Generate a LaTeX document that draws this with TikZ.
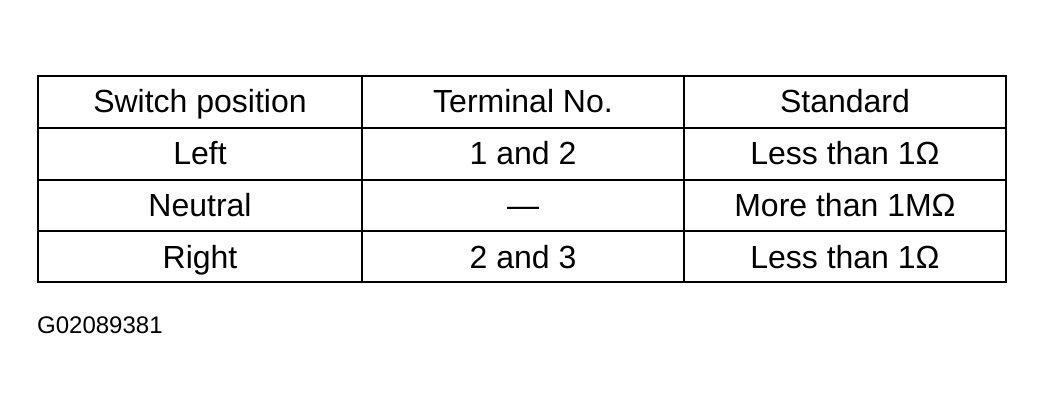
\documentclass[tikz,border=0pt]{standalone}
\usepackage{fontspec}
\setmainfont{Liberation Sans}
\begin{document}
\begin{tikzpicture}[x=1pt,y=-1pt,
  cell/.style={font=\fontsize{32}{36}\selectfont,anchor=base,inner sep=0pt},
  rule/.style={line width=2.2pt}]
\useasboundingbox (0,0) rectangle (1044,403);
\draw[rule] (38,76) rectangle (1006,282);
\foreach \y in {128,180,231} \draw[rule] (38,\y) -- (1006,\y);
\foreach \x in {362,684} \draw[rule] (\x,76) -- (\x,282);
\node[cell] (h1) at (200,113) {Switch position};
\node[cell] (h2) at (523,113) {Terminal No.};
\node[cell] (h3) at (845,113) {Standard};
\node[cell] (a1) at (200,165) {Left};
\node[cell] (a2) at (523,165) {1 and 2};
\node[cell] (a3) at (845,165) {Less than 1Ω};
\node[cell] (b1) at (200,217) {Neutral};
\node[cell] (b2) at (523,217) {—};
\node[cell] (b3) at (845,217) {More than 1MΩ};
\node[cell] (c1) at (200,269) {Right};
\node[cell] (c2) at (523,269) {2 and 3};
\node[cell] (c3) at (845,269) {Less than 1Ω};
\node[font=\fontsize{24}{26}\selectfont,anchor=west,inner sep=0pt] (id) at (37,325) {G02089381};
\end{tikzpicture}
\end{document}
